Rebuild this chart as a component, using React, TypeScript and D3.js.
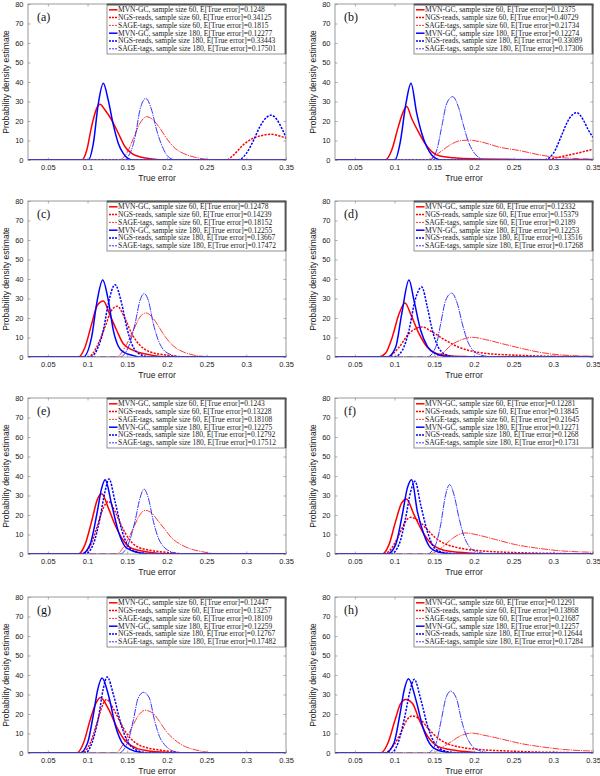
import * as d3 from "d3";
import { useEffect, useRef } from "react";

type Pt = [number, number];

const seriesNames = ["MVN-GC", "NGS-reads", "SAGE-tags", "MVN-GC", "NGS-reads", "SAGE-tags"];
const sampleSizes = [60, 60, 60, 180, 180, 180];
const xTicks = [0.05, 0.1, 0.15, 0.2, 0.25, 0.3, 0.35];
const yTicks = [0, 10, 20, 30, 40, 50, 60, 70, 80];

// E[True error] values shown in each legend
const errA = ["0.1248", "0.34125", "0.1815", "0.12277", "0.33443", "0.17501"];
const errB = ["0.12375", "0.40729", "0.21734", "0.12274", "0.33089", "0.17306"];
const errC = ["0.12478", "0.14239", "0.18152", "0.12255", "0.13667", "0.17472"];
const errD = ["0.12332", "0.15379", "0.2189", "0.12253", "0.13516", "0.17268"];
const errE = ["0.1243", "0.13228", "0.18108", "0.12275", "0.12792", "0.17512"];
const errF = ["0.12281", "0.13845", "0.21645", "0.12271", "0.1268", "0.1731"];
const errG = ["0.12447", "0.13257", "0.18109", "0.12259", "0.12767", "0.17482"];
const errH = ["0.12291", "0.13868", "0.21687", "0.12257", "0.12644", "0.17284"];

// density curves: [true error, density]
// order: MVN-GC 60, NGS-reads 60, SAGE-tags 60, MVN-GC 180, NGS-reads 180, SAGE-tags 180
const curvesA: Pt[][] = [
  [[0.0926, 0], [0.099, 5], [0.105, 17], [0.1115, 26.5], [0.1157, 28.6], [0.122, 25.6], [0.1304, 20.5], [0.1388, 13.7], [0.1472, 6.8], [0.1556, 3.4], [0.168, 1.4], [0.187, 0.3], [0.2, 0]],
  [[0.275, 0], [0.284, 2.6], [0.296, 7.7], [0.307, 10.8], [0.317, 12.3], [0.332, 13.2], [0.342, 12.3], [0.35, 11.1]],
  [[0.1388, 0], [0.1493, 3.4], [0.1577, 11], [0.166, 18.8], [0.1745, 22.2], [0.1828, 20.5], [0.1913, 16.2], [0.1997, 11], [0.2102, 6], [0.2206, 3.4], [0.2354, 1.4], [0.25, 0.4], [0.265, 0]],
  [[0.101, 0], [0.1073, 8.5], [0.1136, 29], [0.1199, 39.3], [0.126, 30.8], [0.1325, 18], [0.1388, 8.5], [0.145, 3.4], [0.1513, 0.7], [0.158, 0]],
  [[0.2895, 0], [0.3, 3.4], [0.309, 10], [0.317, 17], [0.326, 22], [0.331, 23], [0.338, 21], [0.345, 16], [0.35, 11.6]],
  [[0.145, 0], [0.1535, 3.4], [0.16, 12], [0.166, 25.6], [0.1733, 31.6], [0.1808, 25.6], [0.187, 15.4], [0.1934, 7.7], [0.1997, 2.6], [0.208, 0.3], [0.215, 0]],
];
const curvesB: Pt[][] = [
  [[0.088, 0], [0.0964, 5], [0.1047, 17], [0.111, 24.8], [0.1153, 27.4], [0.1216, 21.3], [0.13, 14.5], [0.1384, 8.5], [0.1468, 4.3], [0.1573, 2], [0.174, 1.2], [0.2, 0.6], [0.25, 0.3], [0.3, 0.1], [0.33, 0]],
  [[0.28, 0], [0.3, 0.8], [0.31, 1.7], [0.329, 3.4], [0.35, 5.5]],
  [[0.1405, 0], [0.155, 3.4], [0.1699, 7.7], [0.1825, 9.9], [0.193, 10.2], [0.2077, 9.4], [0.2329, 6.5], [0.258, 4.8], [0.283, 2.6], [0.2996, 1.6], [0.317, 1], [0.35, 0.5]],
  [[0.1006, 0], [0.1069, 8.5], [0.1144, 29], [0.1207, 39.3], [0.1279, 24], [0.1342, 13.7], [0.1405, 6.8], [0.1468, 2.6], [0.155, 0.3], [0.162, 0]],
  [[0.2874, 0], [0.3, 3.4], [0.3106, 12.8], [0.319, 20.5], [0.3295, 24.3], [0.3378, 20.5], [0.3441, 15.4], [0.35, 11.6]],
  [[0.1447, 0], [0.1531, 5], [0.1594, 17], [0.1657, 29], [0.1732, 32.5], [0.1803, 27.4], [0.1867, 18], [0.1929, 9.4], [0.1992, 4.3], [0.2077, 0.9], [0.215, 0]],
];
const curvesC: Pt[][] = [
  [[0.0884, 0], [0.0968, 5], [0.1052, 17], [0.1123, 26.5], [0.1199, 28.7], [0.1283, 21.4], [0.1367, 13.7], [0.145, 6.8], [0.1577, 3.4], [0.1745, 1.4], [0.1913, 0.3], [0.2, 0]],
  [[0.101, 0], [0.1115, 5], [0.122, 15.4], [0.1304, 24], [0.1375, 26], [0.1472, 19.7], [0.1556, 12], [0.1661, 6], [0.1787, 2.6], [0.1997, 1], [0.2165, 0.2], [0.225, 0]],
  [[0.1367, 0], [0.1472, 5], [0.1577, 13.7], [0.1661, 20.5], [0.1736, 22.6], [0.1829, 19.7], [0.1913, 14.5], [0.1997, 9.4], [0.2102, 5], [0.2207, 2.6], [0.2333, 1], [0.25, 0.2], [0.26, 0]],
  [[0.0947, 0], [0.1052, 10.3], [0.1115, 27.4], [0.1191, 39.5], [0.1262, 29], [0.1325, 13.7], [0.1388, 5.5], [0.145, 2.6], [0.1577, 0.7], [0.165, 0]],
  [[0.1031, 0], [0.1115, 3.4], [0.1199, 13.7], [0.1262, 27.4], [0.1346, 37.1], [0.143, 27.4], [0.1493, 15.4], [0.1556, 6.8], [0.1619, 2.6], [0.1703, 0.7], [0.178, 0]],
  [[0.1409, 0], [0.1514, 5], [0.1598, 17], [0.1661, 29], [0.1711, 32.5], [0.1766, 29], [0.1829, 17], [0.1892, 8.5], [0.1955, 3.8], [0.2039, 1.4], [0.2123, 0.3], [0.22, 0]],
];
const curvesD: Pt[][] = [
  [[0.0804, 0], [0.0888, 2], [0.0972, 10.3], [0.1056, 22], [0.1132, 27.7], [0.1203, 22], [0.1308, 12], [0.1413, 5], [0.1518, 2], [0.1686, 0.7], [0.1896, 0.2], [0.2, 0]],
  [[0.0909, 0], [0.1056, 5], [0.1182, 12], [0.135, 15.4], [0.1476, 12.8], [0.1644, 8.5], [0.1812, 5], [0.198, 2.9], [0.219, 1.7], [0.2484, 1], [0.282, 0.5], [0.3156, 0.2], [0.33, 0]],
  [[0.1476, 0], [0.1602, 2], [0.1728, 6.5], [0.1854, 9], [0.198, 10.1], [0.2148, 8.9], [0.2358, 6.8], [0.261, 4.3], [0.2862, 2.2], [0.3114, 1], [0.35, 0.4]],
  [[0.0909, 0], [0.1014, 5], [0.109, 22], [0.1182, 39.5], [0.1245, 29], [0.1329, 13.7], [0.1413, 5.5], [0.1518, 1.7], [0.1644, 0.3], [0.17, 0]],
  [[0.0993, 0], [0.1098, 3.4], [0.1182, 13.7], [0.1258, 29], [0.1342, 35.9], [0.1413, 25.6], [0.1476, 13.7], [0.1539, 6], [0.1623, 1.7], [0.1728, 0.3], [0.18, 0]],
  [[0.1413, 0], [0.1518, 5], [0.1581, 17], [0.1644, 29], [0.172, 32.8], [0.1791, 27.4], [0.1854, 17], [0.1917, 8.5], [0.198, 3.8], [0.2085, 1], [0.219, 0.2], [0.225, 0]],
];
const curvesE: Pt[][] = [
  [[0.0884, 0], [0.0968, 4.8], [0.1052, 16.8], [0.1123, 27.9], [0.1178, 30.9], [0.1262, 23.6], [0.1346, 15], [0.143, 8.2], [0.1535, 3.4], [0.1703, 1.4], [0.1913, 0.3], [0.2, 0]],
  [[0.0926, 0], [0.1031, 3.9], [0.1115, 13.3], [0.1199, 23.6], [0.1262, 27], [0.1346, 21.9], [0.143, 14.2], [0.1514, 8.2], [0.1619, 3.9], [0.1787, 1.9], [0.1955, 1], [0.2165, 0.2], [0.225, 0]],
  [[0.1367, 0], [0.1472, 4.8], [0.1577, 13.3], [0.1661, 20.2], [0.1724, 22.4], [0.1808, 21], [0.1892, 16.8], [0.1976, 12.5], [0.206, 8.2], [0.2165, 5.1], [0.2291, 2.7], [0.2417, 1.4], [0.2585, 0.2], [0.265, 0]],
  [[0.0926, 0], [0.1031, 4.8], [0.1115, 20], [0.1178, 33.8], [0.1222, 38.1], [0.1304, 25.3], [0.1388, 11.6], [0.1472, 3.9], [0.1577, 1.4], [0.1703, 0.3], [0.178, 0]],
  [[0.0968, 0], [0.1073, 5.1], [0.1157, 18.5], [0.122, 32], [0.127, 38.5], [0.1346, 27], [0.143, 12.5], [0.1514, 3.9], [0.1619, 1], [0.1745, 0.2], [0.18, 0]],
  [[0.1409, 0], [0.1514, 5.1], [0.1598, 16.8], [0.1661, 28.7], [0.1711, 33.3], [0.1766, 28.7], [0.1829, 16.8], [0.1892, 8.2], [0.1955, 3.9], [0.2039, 1.4], [0.2123, 0.3], [0.22, 0]],
];
const curvesF: Pt[][] = [
  [[0.0846, 0], [0.093, 4.8], [0.1014, 16.8], [0.109, 26.2], [0.1149, 28.2], [0.1245, 20.2], [0.135, 11.6], [0.1455, 5.6], [0.1602, 2.2], [0.1812, 0.9], [0.2022, 0.3], [0.21, 0]],
  [[0.0867, 0], [0.0993, 4.8], [0.1077, 11.6], [0.114, 16.8], [0.1203, 18.8], [0.1308, 16.8], [0.1413, 12.5], [0.1518, 8.2], [0.1644, 5.1], [0.1812, 3.1], [0.2064, 1.7], [0.24, 0.9], [0.2736, 0.5], [0.3156, 0.2], [0.33, 0]],
  [[0.1434, 0], [0.156, 2.2], [0.1686, 6.5], [0.1791, 9.6], [0.1896, 10.8], [0.2064, 9.6], [0.2274, 7.4], [0.2526, 4.8], [0.2778, 3.1], [0.3072, 1.7], [0.35, 0.9]],
  [[0.0909, 0], [0.1014, 4.8], [0.1098, 20.2], [0.1161, 33.8], [0.1216, 38.1], [0.1287, 21.9], [0.1371, 9.9], [0.1455, 3.1], [0.156, 0.9], [0.1686, 0.2], [0.175, 0]],
  [[0.0951, 0], [0.1056, 4.8], [0.114, 18.5], [0.1203, 32], [0.1258, 37.3], [0.1329, 25.3], [0.1413, 11.6], [0.1497, 3.4], [0.1602, 0.9], [0.1728, 0.2], [0.18, 0]],
  [[0.1413, 0], [0.1518, 4.8], [0.1581, 15], [0.1644, 30.4], [0.1694, 35.6], [0.1749, 30.4], [0.1812, 18.5], [0.1875, 9.1], [0.1938, 3.9], [0.2022, 1.4], [0.2127, 0.3], [0.22, 0]],
];
const curvesG: Pt[][] = [
  [[0.0864, 0], [0.0949, 5.1], [0.1034, 17.1], [0.1106, 25.6], [0.1162, 28.5], [0.1268, 22.2], [0.1374, 12.8], [0.148, 6], [0.1608, 2.6], [0.1799, 0.9], [0.2012, 0.3], [0.21, 0]],
  [[0.0928, 0], [0.1034, 5.1], [0.1119, 15.4], [0.1183, 23.9], [0.1238, 27.4], [0.1332, 22.2], [0.1417, 15.4], [0.1502, 9.4], [0.1608, 5.1], [0.1757, 2.6], [0.1927, 1.4], [0.2139, 0.3], [0.222, 0]],
  [[0.1353, 0], [0.1459, 5.1], [0.1565, 13.7], [0.165, 19.7], [0.1723, 21.9], [0.1821, 20.5], [0.1906, 16.2], [0.1991, 11.1], [0.2097, 6.8], [0.2224, 3.4], [0.2352, 1.7], [0.2522, 0.3], [0.26, 0]],
  [[0.0906, 0], [0.1, 5.1], [0.1077, 20.5], [0.1128, 32.5], [0.1183, 38.5], [0.1268, 29], [0.1353, 13.7], [0.1438, 5.1], [0.1544, 1.7], [0.1672, 0.3], [0.175, 0]],
  [[0.097, 0], [0.1055, 5.1], [0.114, 18.8], [0.1196, 32.5], [0.1247, 39], [0.1332, 29], [0.1417, 15.4], [0.1502, 6], [0.1608, 1.7], [0.1714, 0.3], [0.178, 0]],
  [[0.1395, 0], [0.1502, 5.1], [0.1578, 17.1], [0.1638, 28.2], [0.1706, 31.1], [0.1778, 28.2], [0.1842, 17.1], [0.1906, 8.5], [0.1969, 4.3], [0.2054, 1.4], [0.2139, 0.3], [0.22, 0]],
];
const curvesH: Pt[][] = [
  [[0.0823, 0], [0.0917, 5.1], [0.1006, 16.9], [0.1078, 25.4], [0.1142, 27.5], [0.1227, 25.4], [0.1312, 16.9], [0.1418, 8.5], [0.1546, 3.4], [0.1758, 1.4], [0.2013, 0.3], [0.21, 0]],
  [[0.0866, 0], [0.0993, 4.2], [0.1078, 10.2], [0.1155, 16.9], [0.1219, 19], [0.1333, 16.9], [0.1439, 11.9], [0.1546, 7.6], [0.1673, 4.7], [0.1843, 2.9], [0.2098, 1.7], [0.2438, 1], [0.2778, 0.5], [0.3202, 0.2], [0.335, 0]],
  [[0.1482, 0], [0.1588, 2.5], [0.1716, 5.9], [0.1843, 9], [0.197, 10.2], [0.214, 9], [0.2353, 7.1], [0.2608, 4.7], [0.2863, 3.1], [0.316, 1.7], [0.35, 1]],
  [[0.0887, 0], [0.0993, 5.1], [0.107, 20.3], [0.1121, 32.2], [0.1176, 38.1], [0.127, 27.1], [0.1354, 13.6], [0.1439, 5.1], [0.1546, 1.4], [0.1673, 0.3], [0.175, 0]],
  [[0.0951, 0], [0.1044, 5.1], [0.1129, 18.6], [0.1197, 32.2], [0.1248, 37.8], [0.1333, 27.1], [0.1418, 13.6], [0.1503, 5.1], [0.1609, 1.4], [0.1737, 0.3], [0.18, 0]],
  [[0.1418, 0], [0.1524, 5.1], [0.1588, 16.9], [0.1652, 28.8], [0.1707, 31.7], [0.178, 28], [0.1843, 16.9], [0.1907, 8.5], [0.1971, 3.9], [0.2056, 1.4], [0.2162, 0.3], [0.222, 0]],
];

const panels = [
  { label: "(a)", errs: errA, curves: curvesA },
  { label: "(b)", errs: errB, curves: curvesB },
  { label: "(c)", errs: errC, curves: curvesC },
  { label: "(d)", errs: errD, curves: curvesD },
  { label: "(e)", errs: errE, curves: curvesE },
  { label: "(f)", errs: errF, curves: curvesF },
  { label: "(g)", errs: errG, curves: curvesG },
  { label: "(h)", errs: errH, curves: curvesH },
];

const lineStyles = [
  { color: "#ff0000", width: 1.5, dash: "" },
  { color: "#ff0000", width: 1.5, dash: "2.2,1.3" },
  { color: "#ff2020", width: 0.9, dash: "7,1,1.2,1" },
  { color: "#0000ff", width: 1.5, dash: "" },
  { color: "#0000ff", width: 1.5, dash: "2.2,1.3" },
  { color: "#2020ff", width: 0.9, dash: "7,1,1.2,1" },
];

const SANS = "'Liberation Sans', Arial, sans-serif";
const SERIF = "'Liberation Serif', 'Times New Roman', serif";

export default function App() {
  const svgRef = useRef<SVGSVGElement | null>(null);

  useEffect(() => {
    if (!svgRef.current) return;
    const svg = d3.select(svgRef.current);
    svg.selectAll("*").remove();

    svg.append("rect").attr("width", 600).attr("height", 776).attr("fill", "#fff");

    const W = 258;
    const H = 156;
    const rowTops = [4, 201, 398, 597];

    panels.forEach((p, i) => {
      const left = i % 2 === 0 ? 28 : 335;
      const top = rowTops[Math.floor(i / 2)];

      const x = d3.scaleLinear().domain([0.025, 0.35]).range([left, left + W]);
      const y = d3.scaleLinear().domain([0, 80]).range([top + H, top]);

      const g = svg.append("g");

      const clipId = `clip-${i}`;
      svg.append("defs").append("clipPath").attr("id", clipId)
        .append("rect").attr("x", left).attr("y", top - 2).attr("width", W).attr("height", H + 2);

      // axes (MATLAB-style inward ticks on all four sides)
      const xAxis = g.append("g")
        .attr("transform", `translate(0,${top + H})`)
        .call(d3.axisBottom(x).tickValues(xTicks).tickSizeInner(-2.5).tickSizeOuter(0).tickPadding(4.5).tickFormat((d) => String(d)));
      const yAxis = g.append("g")
        .attr("transform", `translate(${left},0)`)
        .call(d3.axisLeft(y).tickValues(yTicks).tickSizeInner(-2.5).tickSizeOuter(0).tickPadding(4.5));
      const xTop = g.append("g")
        .attr("transform", `translate(0,${top})`)
        .call(d3.axisTop(x).tickValues(xTicks).tickSizeInner(-2.5).tickSizeOuter(0).tickFormat(() => ""));
      const yRight = g.append("g")
        .attr("transform", `translate(${left + W},0)`)
        .call(d3.axisRight(y).tickValues(yTicks).tickSizeInner(-2.5).tickSizeOuter(0).tickFormat(() => ""));

      [xAxis, yAxis, xTop, yRight].forEach((a) => {
        a.select(".domain").remove();
        a.selectAll(".tick line").attr("stroke", "#777").attr("stroke-width", 0.6);
        a.selectAll(".tick text").attr("font-family", SANS).attr("font-size", 7.5).attr("fill", "#222");
      });

      // axis titles
      g.append("text")
        .attr("x", left + W / 2).attr("y", top + H + 21)
        .attr("text-anchor", "middle")
        .attr("font-family", SANS).attr("font-size", 8.5).attr("fill", "#222")
        .text("True error");
      g.append("text")
        .attr("transform", `translate(${left - 22},${top + H / 2}) rotate(-90)`)
        .attr("text-anchor", "middle").attr("dy", "0.35em")
        .attr("font-family", SANS).attr("font-size", 8.5).attr("fill", "#222")
        .text("Probability density estimate");

      // curves
      const line = d3.line<Pt>()
        .x((d) => x(d[0]))
        .y((d) => y(d[1]))
        .curve(d3.curveMonotoneX);

      const cg = g.append("g").attr("clip-path", `url(#${clipId})`);
      p.curves.forEach((c, k) => {
        const pts: Pt[] = [...c];
        if (pts[0][0] > 0.025) pts.unshift([0.025, 0]);
        if (pts[pts.length - 1][0] < 0.35) pts.push([0.35, 0]);
        const s = lineStyles[k];
        cg.append("path")
          .attr("d", line(pts) ?? "")
          .attr("fill", "none")
          .attr("stroke", s.color)
          .attr("stroke-width", s.width)
          .attr("stroke-dasharray", s.dash || null)
          .attr("stroke-linejoin", "round");
      });

      // plot box
      g.append("rect")
        .attr("x", left).attr("y", top).attr("width", W).attr("height", H)
        .attr("fill", "none").attr("stroke", "#808080").attr("stroke-width", 0.8);

      // panel label
      g.append("text")
        .attr("x", left + 9).attr("y", top + 17)
        .attr("font-family", SERIF).attr("font-size", 12).attr("fill", "#111")
        .text(p.label);

      // legend
      const lw = 179;
      const lh = 50;
      const lx = left + W - lw;
      const ly = top;
      const lg = g.append("g");
      lg.append("rect")
        .attr("x", lx).attr("y", ly).attr("width", lw).attr("height", lh)
        .attr("fill", "#fff").attr("stroke", "#777").attr("stroke-width", 0.8);
      lg.append("line")
        .attr("x1", lx).attr("x2", lx + lw).attr("y1", ly + 0.6).attr("y2", ly + 0.6)
        .attr("stroke", "#555").attr("stroke-width", 1.6);
      lg.append("line")
        .attr("x1", lx + lw - 0.6).attr("x2", lx + lw - 0.6).attr("y1", ly).attr("y2", ly + lh)
        .attr("stroke", "#555").attr("stroke-width", 1.6);
      p.errs.forEach((e, k) => {
        const ry = ly + 5.8 + k * 7.8;
        const s = lineStyles[k];
        lg.append("line")
          .attr("x1", lx + 2).attr("x2", lx + 10.5).attr("y1", ry).attr("y2", ry)
          .attr("stroke", s.color).attr("stroke-width", s.width)
          .attr("stroke-dasharray", s.dash ? "2,1" : null);
        lg.append("text")
          .attr("x", lx + 11).attr("y", ry).attr("dy", "0.33em")
          .attr("font-family", SERIF).attr("font-size", 7.5).attr("fill", "#222")
          .text(`${seriesNames[k]}, sample size ${sampleSizes[k]}, E[True error]=${e}`);
      });
    });
  }, []);

  return (
    <div style={{ position: "absolute", left: 0, top: 0 }}>
      <svg ref={svgRef} width={600} height={776} style={{ display: "block" }}></svg>
    </div>
  );
}
